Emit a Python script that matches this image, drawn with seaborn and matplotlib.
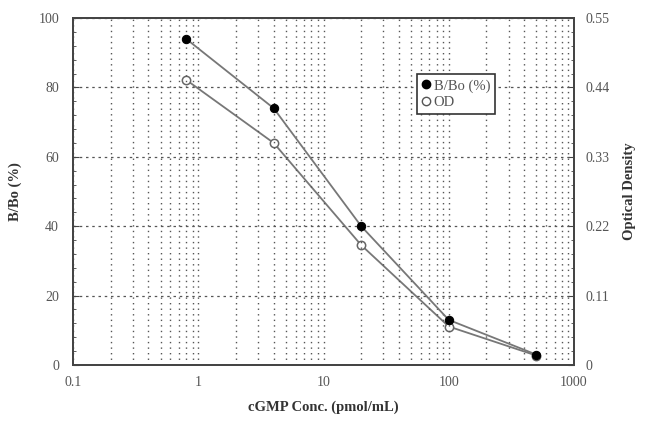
import numpy as np
import pandas as pd
import seaborn as sns
import matplotlib
matplotlib.use("Agg")
import matplotlib.pyplot as plt
from matplotlib.lines import Line2D
from matplotlib.ticker import LogLocator, FixedLocator, NullFormatter, MultipleLocator

conc = [0.8, 4, 20, 100, 500]
bbo = [94, 74, 40, 13, 3]
od = [0.452, 0.352, 0.19, 0.061, 0.015]
x_ticks = [0.1, 1, 10, 100, 1000]
x_labels = ["0.1", "1", "10", "100", "1000"]
left_ticks = [0, 20, 40, 60, 80, 100]
right_ticks = [0, 0.11, 0.22, 0.33, 0.44, 0.55]
right_labels = ["0", "0.11", "0.22", "0.33", "0.44", "0.55"]

sns.set_theme(style="white")
plt.rcParams['font.family'] = ['Liberation Serif', 'DejaVu Serif']

df1 = pd.DataFrame({"conc": conc, "val": bbo})
df2 = pd.DataFrame({"conc": conc, "val": od})

fig = plt.figure(figsize=(6.5, 4.26), dpi=100)
ax = fig.add_axes([73/650, 1 - 365/426, (574-73)/650, (365-18)/426])
ax2 = ax.twinx()
ax.set_zorder(ax2.get_zorder() + 1)
ax.patch.set_visible(False)

ax.set_xscale("log")
ax.set_xlim(0.1, 1000)
ax.set_ylim(0, 100)
ax2.set_ylim(0, 0.55)

line_col = "#777777"
sns.lineplot(data=df2, x="conc", y="val", ax=ax2, color=line_col, lw=1.3,
             marker="o", markersize=6, markerfacecolor="white",
             markeredgecolor="#666666", markeredgewidth=1.1, zorder=4)
sns.lineplot(data=df1, x="conc", y="val", ax=ax, color=line_col, lw=1.3,
             marker="o", markersize=6, markerfacecolor="black",
             markeredgecolor="black", zorder=5)

# grids
ax.xaxis.set_major_locator(FixedLocator(x_ticks))
ax.xaxis.set_minor_locator(LogLocator(base=10, subs=np.arange(2, 10)))
ax.xaxis.set_minor_formatter(NullFormatter())
ax.set_xticks(x_ticks)
ax.set_xticklabels(x_labels)
ax.set_yticks(left_ticks)
ax.yaxis.set_minor_locator(MultipleLocator(4))
ax2.set_yticks(right_ticks)
ax2.set_yticklabels(right_labels)
ax2.yaxis.set_minor_locator(MultipleLocator(0.022))

ax.grid(False)
ax2.grid(False)
ax.xaxis.grid(True, which="both", color="#555555", linestyle=(0, (1, 3)), lw=1.0)
ax.yaxis.grid(True, which="major", color="#555555", linestyle=(0, (2, 3)), lw=0.9)

for a in (ax, ax2):
    for s in a.spines.values():
        s.set_color("#444444")
        s.set_linewidth(1.3)

ax.tick_params(axis="both", which="major", direction="in", length=4, width=0.8,
               colors="#444444", labelsize=10, labelcolor="#555555")
ax.tick_params(axis="both", which="minor", direction="in", length=2.5, width=0.6,
               colors="#444444")
ax.tick_params(axis="x", pad=8)
ax.tick_params(axis="y", pad=10)
ax2.tick_params(axis="y", which="major", direction="in", length=4, width=0.8,
                colors="#444444", labelsize=10, labelcolor="#555555", pad=8)
ax2.tick_params(axis="y", which="minor", direction="in", length=2.5, width=0.6,
                colors="#444444")

ax.set_xlabel("cGMP Conc. (pmol/mL)", fontsize=10.5, fontweight="bold",
              color="#333333", labelpad=8)
ax.set_ylabel("B/Bo (%)", fontsize=10.5, fontweight="bold", color="#333333", labelpad=12)
ax2.set_ylabel("Optical Density", fontsize=10.5, fontweight="bold", color="#333333",
               labelpad=10)

handles = [
    Line2D([], [], marker="o", color="none", markerfacecolor="black",
           markeredgecolor="black", markersize=6),
    Line2D([], [], marker="o", color="none", markerfacecolor="white",
           markeredgecolor="#555555", markersize=6),
]
if ax.get_legend():
    ax.get_legend().remove()
if ax2.get_legend():
    ax2.get_legend().remove()
leg = ax.legend(handles, ["B/Bo (%)", "OD"], loc="upper left",
                bbox_to_anchor=((417-73)/501, (365-74)/347),
                frameon=True, fancybox=False, fontsize=10.5, handlelength=0.6,
                handletextpad=0.2, borderpad=0.35, labelspacing=0.2,
                borderaxespad=0)
leg.get_frame().set_edgecolor("#333333")
leg.get_frame().set_linewidth(1.2)
leg.get_frame().set_alpha(1)
for t in leg.get_texts():
    t.set_color("#555555")

fig.savefig("out.png", dpi=100)
